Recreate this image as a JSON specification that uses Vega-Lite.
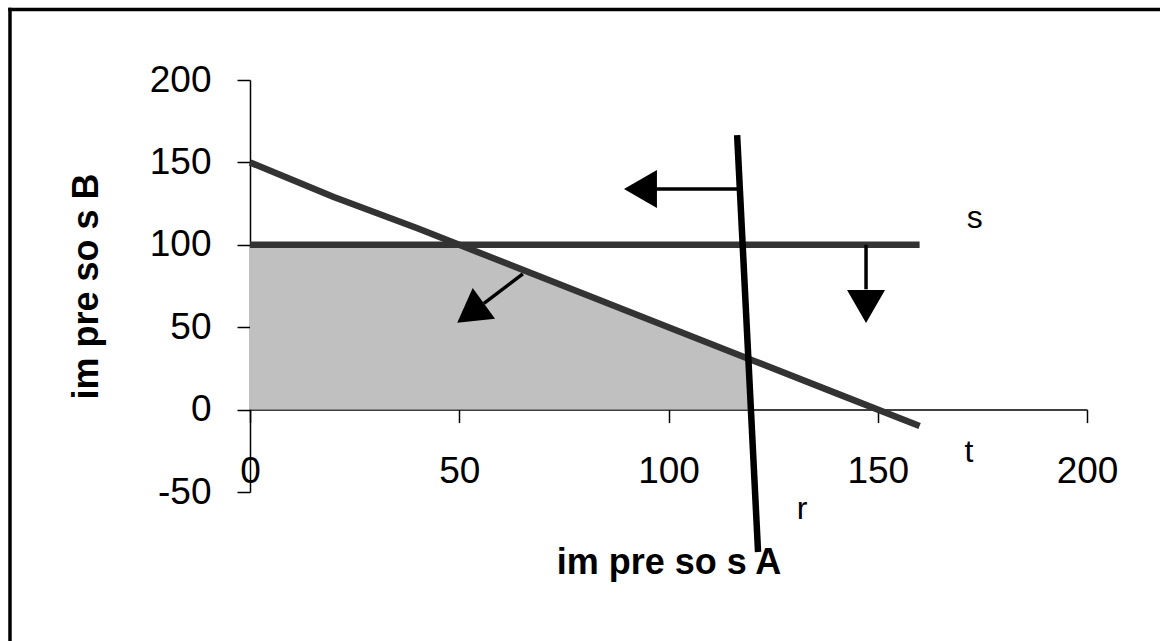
{
  "$schema": "https://vega.github.io/schema/vega-lite/v6.json",
  "width": 837,
  "height": 412,
  "autosize": {"type": "none"},
  "padding": {"left": 250, "top": 80, "right": 73, "bottom": 149},
  "background": "white",
  "config": {
    "view": {"stroke": null},
    "font": "Liberation Sans",
    "axis": {
      "grid": false,
      "domainColor": "black",
      "domainWidth": 1.5,
      "tickColor": "black",
      "tickWidth": 1.5,
      "tickSize": 13,
      "labelFont": "Liberation Sans",
      "labelFontSize": 37,
      "labelColor": "black",
      "titleFont": "Liberation Sans",
      "titleFontSize": 36,
      "titleFontWeight": "bold",
      "titleColor": "black"
    }
  },
  "datasets": {
    "region": [
      {"x": 0, "y": 100},
      {"x": 50, "y": 100},
      {"x": 119, "y": 31},
      {"x": 119.7, "y": 0}
    ],
    "lines": [
      {"serie": "t", "x": 0, "y": 150},
      {"serie": "t", "x": 20, "y": 129},
      {"serie": "t", "x": 40, "y": 110},
      {"serie": "t", "x": 60, "y": 90},
      {"serie": "t", "x": 80, "y": 70},
      {"serie": "t", "x": 100, "y": 50},
      {"serie": "t", "x": 120, "y": 30},
      {"serie": "t", "x": 140, "y": 10},
      {"serie": "t", "x": 160, "y": -10},
      {"serie": "s", "x": 0, "y": 100},
      {"serie": "s", "x": 160, "y": 100},
      {"serie": "r", "x": 116.4, "y": 166.6},
      {"serie": "r", "x": 121.4, "y": -86.4}
    ],
    "arrows": [
      {"x": 116.5, "y": 133.9, "x2": 97, "y2": 133.9, "hx": 93.3, "hy": 133.9, "dir": 270},
      {"x": 147.2, "y": 100, "x2": 147.2, "y2": 73, "hx": 147.2, "hy": 62.6, "dir": 180},
      {"x": 65.2, "y": 82.3, "x2": 55.9, "y2": 64.5, "hx": 52.7, "hy": 58.6, "dir": 234}
    ],
    "labels": [
      {"label": "s", "x": 173.2, "y": 110.2},
      {"label": "t", "x": 171.8, "y": -31.8},
      {"label": "r", "x": 131.9, "y": -66.4}
    ],
    "frame": [
      {"x": -57.35, "y": 242.8, "x2": -57.35, "y2": -170},
      {"x": -57.35, "y": 242.8, "x2": 230, "y2": 242.8}
    ]
  },
  "layer": [
    {
      "data": {"name": "region"},
      "mark": {"type": "area", "color": "#c0c0c0", "opacity": 1},
      "encoding": {
        "x": {
          "field": "x", "type": "quantitative",
          "scale": {"domain": [0, 200], "nice": false, "zero": false},
          "axis": {
            "title": "im pre so s A",
            "values": [0, 50, 100, 150, 200],
            "labelExpr": "'' + datum.value",
            "offset": -82.4,
            "labelPadding": 31,
            "titlePadding": 56,
            "labelFlush": false,
            "labelOverlap": false
          }
        },
        "y": {
          "field": "y", "type": "quantitative",
          "scale": {"domain": [-50, 200], "nice": false, "zero": false},
          "axis": {
            "title": "im pre so s B",
            "values": [-50, 0, 50, 100, 150, 200],
            "labelExpr": "'' + datum.value",
            "labelPadding": 26,
            "titlePadding": 44,
            "labelFlush": false,
            "labelOverlap": false
          }
        },
        "y2": {"datum": 0}
      }
    },
    {
      "data": {"name": "lines"},
      "mark": {"type": "line", "strokeWidth": 6.5, "strokeCap": "butt", "strokeJoin": "round"},
      "encoding": {
        "x": {"field": "x", "type": "quantitative"},
        "y": {"field": "y", "type": "quantitative"},
        "detail": {"field": "serie"},
        "color": {
          "field": "serie", "type": "nominal",
          "scale": {"domain": ["t", "s", "r"], "range": ["#333333", "#333333", "#000000"]},
          "legend": null
        }
      }
    },
    {
      "data": {"name": "arrows"},
      "mark": {"type": "rule", "color": "black", "strokeWidth": 3.5},
      "encoding": {
        "x": {"field": "x", "type": "quantitative"},
        "y": {"field": "y", "type": "quantitative"},
        "x2": {"field": "x2"},
        "y2": {"field": "y2"}
      }
    },
    {
      "data": {"name": "arrows"},
      "mark": {"type": "point", "shape": "triangle-up", "filled": true, "color": "black", "opacity": 1, "size": 1444},
      "encoding": {
        "x": {"field": "hx", "type": "quantitative"},
        "y": {"field": "hy", "type": "quantitative"},
        "angle": {"field": "dir", "type": "quantitative", "scale": null}
      }
    },
    {
      "data": {"name": "labels"},
      "mark": {"type": "text", "font": "Liberation Sans", "fontSize": 32, "align": "center", "baseline": "alphabetic", "color": "black"},
      "encoding": {
        "x": {"field": "x", "type": "quantitative"},
        "y": {"field": "y", "type": "quantitative"},
        "text": {"field": "label"}
      }
    },
    {
      "data": {"name": "frame"},
      "mark": {"type": "rule", "color": "black", "strokeWidth": 3.5, "strokeCap": "square"},
      "encoding": {
        "x": {"field": "x", "type": "quantitative"},
        "y": {"field": "y", "type": "quantitative"},
        "x2": {"field": "x2"},
        "y2": {"field": "y2"}
      }
    }
  ]
}
